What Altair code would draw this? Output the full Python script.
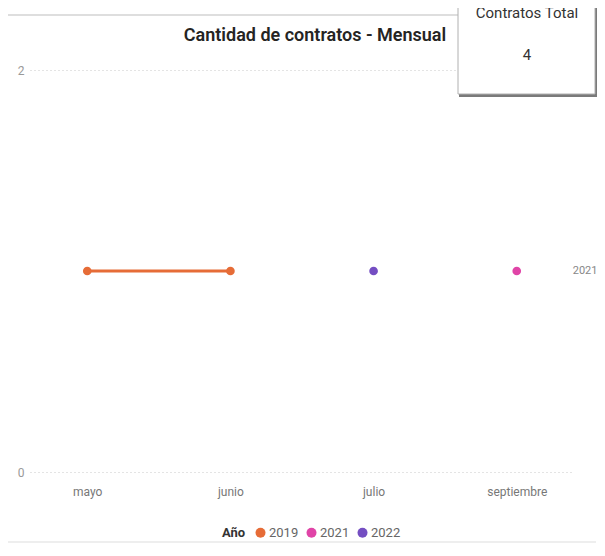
import altair as alt
import pandas as pd

# ---- data ----
meses = ["mayo", "junio", "julio", "septiembre"]
anios = ["2019", "2019", "2022", "2021"]
contratos = [1, 1, 1, 1]
orden_meses = ["mayo", "junio", "julio", "septiembre"]
leyenda_anios = ["2019", "2021", "2022"]
colores = ["#E66C37", "#E044A7", "#744EC2"]
titulo = "Cantidad de contratos - Mensual"
tarjeta_titulo = "Contratos Total"
tarjeta_valor = str(sum(contratos))

df = pd.DataFrame({"Mes": meses, "Año": anios, "Contratos": contratos})

FONT = "Roboto"
W, H = 544, 402

x_enc = alt.X("Mes:N", sort=orden_meses,
              scale=alt.Scale(type="point", padding=0.4),
              axis=alt.Axis(title=None, labelAngle=0, labelColor="#777777",
                            labelFontSize=12, labelFont=FONT, ticks=False,
                            domain=False, labelPadding=14, grid=False))
y_enc = alt.Y("Contratos:Q", scale=alt.Scale(domain=[0, 2]),
              axis=alt.Axis(title=None, values=[0, 1, 2], format="d",
                            labelColor="#999999",
                            labelFontSize=12, labelFont=FONT, ticks=False,
                            domain=False, labelPadding=6, grid=True,
                            gridDash=[1, 3], gridColor="#c8c8c8"))
color_scale = alt.Scale(domain=leyenda_anios, range=colores)

base = alt.Chart(df)

line = base.mark_line(strokeWidth=3).encode(
    x=x_enc, y=y_enc,
    color=alt.Color("Año:N", scale=color_scale, legend=None),
)

points = base.mark_circle(size=75, opacity=1).encode(
    x=x_enc, y=y_enc,
    color=alt.Color("Año:N", scale=color_scale,
                    legend=alt.Legend(orient="none", legendX=192, legendY=456,
                                      direction="horizontal", titleOrient="left",
                                      title="Año", symbolType="circle",
                                      symbolSize=100, labelFont=FONT,
                                      labelFontSize=13, labelColor="#666666",
                                      titleFont=FONT, titleFontSize=13,
                                      titleFontWeight="bold", titleColor="#333333",
                                      columnPadding=6, labelOffset=2,
                                      titlePadding=8)),
)

label_2021 = base.transform_filter(alt.datum.Mes == "septiembre").mark_text(
    align="left", baseline="middle", dx=56, font=FONT, fontSize=11, color="#888888"
).encode(x=x_enc, y=y_enc, text="Año:N")

one = alt.Chart(alt.Data(values=[{}]))

top_line = one.mark_rule(color="#bdbdbd", strokeWidth=1).encode(
    x=alt.value(-22), x2=alt.value(428), y=alt.value(-55))
bottom_line = one.mark_rule(color="#dddddd", strokeWidth=1).encode(
    x=alt.value(-22), x2=alt.value(566), y=alt.value(472))

card_shadow = one.mark_rect(color="#7a7a7a").encode(
    x=alt.value(429), x2=alt.value(568), y=alt.value(-80), y2=alt.value(27))
card = one.mark_rect(color="white", stroke="#b0b0b0", strokeWidth=1).encode(
    x=alt.value(428), x2=alt.value(565), y=alt.value(-80), y2=alt.value(24))
card_t1 = one.mark_text(font=FONT, fontSize=15, color="#333333",
                        baseline="alphabetic").encode(
    x=alt.value(497), y=alt.value(-52), text=alt.value(tarjeta_titulo))
card_t2 = one.mark_text(font=FONT, fontSize=15, color="#333333",
                        baseline="middle").encode(
    x=alt.value(497), y=alt.value(-15), text=alt.value(tarjeta_valor))

title = one.mark_text(font=FONT, fontSize=18, fontWeight=600, color="#252423",
                      baseline="middle").encode(
    x=alt.value(285), y=alt.value(-34), text=alt.value(titulo))

chart = alt.layer(
    top_line, bottom_line, line, points, label_2021,
    card_shadow, card, card_t1, card_t2, title
).resolve_legend(color="independent").properties(
    width=W, height=H,
    autosize=alt.AutoSizeParams(type="none"),
    padding={"left": 22, "top": 62, "right": 23, "bottom": 72},
).configure(background="white").configure_view(stroke=None)

chart.save("out.html", embed_options={"renderer": "svg", "actions": False})
